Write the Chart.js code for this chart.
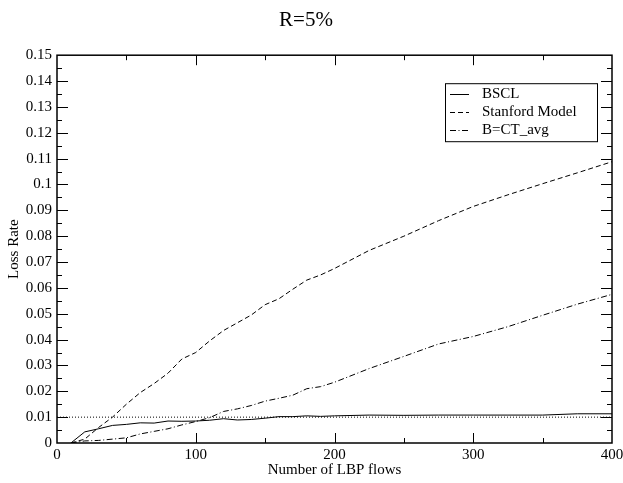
<!DOCTYPE html>
<html>
<head>
<meta charset="utf-8">
<script src="https://cdn.jsdelivr.net/npm/chart.js@4/dist/chart.umd.min.js"></script>
<style>
  html, body { margin: 0; padding: 0; background: #fff; }
  #wrap { width: 623px; height: 483px; }
</style>
</head>
<body>
<div id="wrap"><canvas id="lossChart" width="623" height="483"></canvas></div>
<script>
// values
const flows = [10, 20, 30, 40, 50, 60, 70, 80, 90, 100, 110, 120, 130, 140, 150, 160, 170, 180, 190, 200, 225, 250, 275, 300, 325, 350, 375, 400];
const bscl = [0, 0.0043, 0.0055, 0.0068, 0.0072, 0.0078, 0.0077, 0.0085, 0.0084, 0.0085, 0.0088, 0.0094, 0.0089, 0.0091, 0.0096, 0.0102, 0.0102, 0.0105, 0.0103, 0.0105, 0.0108, 0.0107, 0.0108, 0.0108, 0.0108, 0.0108, 0.0113, 0.0113];
const stanford = [0, 0.0015, 0.006, 0.010, 0.015, 0.0195, 0.023, 0.027, 0.0325, 0.035, 0.0395, 0.0435, 0.0465, 0.0495, 0.0535, 0.0558, 0.0595, 0.063, 0.065, 0.0675, 0.0745, 0.080, 0.086, 0.0915, 0.096, 0.1003, 0.1045, 0.1088];
const ctAvg = [0, 0.0008, 0.001, 0.0015, 0.002, 0.0035, 0.0045, 0.0055, 0.007, 0.0083, 0.0098, 0.0122, 0.0132, 0.0145, 0.0162, 0.0173, 0.0185, 0.021, 0.0218, 0.0235, 0.0288, 0.0335, 0.0383, 0.0412, 0.045, 0.0494, 0.0537, 0.0575];
const refLevel = 0.01;
const xRange = [0, 400];
const yRange = [0, 0.15];

const FONT = 'Liberation Serif, Times New Roman, serif';

const toPoints = ys => flows.map((x, i) => ({ x: x, y: ys[i] }));

// frame, inward ticks and the boxed legend
const framePlugin = {
  id: 'frame',
  afterDatasetsDraw(chart) {
    const { ctx, chartArea: a, scales } = chart;
    const xs = scales.x, ys = scales.y;
    ctx.save();
    ctx.strokeStyle = '#000';
    ctx.lineWidth = 1;
    ctx.beginPath();
    for (let v = xRange[0] + 50; v < xRange[1]; v += 50) {
      const px = Math.round(xs.getPixelForValue(v)) + 0.5;
      const len = v % 100 === 0 ? 10 : 5;
      ctx.moveTo(px, a.bottom); ctx.lineTo(px, a.bottom - len);
      ctx.moveTo(px, a.top); ctx.lineTo(px, a.top + len);
    }
    for (let i = 1; i < 30; i++) {
      const v = i * 0.005;
      const py = Math.round(ys.getPixelForValue(v)) + 0.5;
      const len = i % 2 === 0 ? 11 : 5;
      ctx.moveTo(a.left, py); ctx.lineTo(a.left + len, py);
      ctx.moveTo(a.right, py); ctx.lineTo(a.right - len, py);
    }
    ctx.stroke();
    ctx.lineWidth = 1.5;
    ctx.strokeRect(a.left, a.top, a.right - a.left, a.bottom - a.top);

    // legend
    const items = chart.data.datasets.filter(d => d.label);
    const bx = a.right - 15 - 152, by = a.top + 28, bw = 152, bh = 58;
    ctx.fillStyle = '#fff';
    ctx.fillRect(bx, by, bw, bh);
    ctx.lineWidth = 1;
    ctx.strokeRect(bx + 0.5, by + 0.5, bw, bh);
    ctx.font = '15px ' + FONT;
    ctx.textBaseline = 'middle';
    ctx.fillStyle = '#000';
    items.forEach((d, i) => {
      const y = Math.round(by + 11 + i * 18) + 0.5;
      ctx.setLineDash(d.borderDash || []);
      ctx.beginPath();
      ctx.moveTo(bx + 5, y);
      ctx.lineTo(bx + 24, y);
      ctx.stroke();
      ctx.setLineDash([]);
      ctx.fillText(d.label, bx + 37, y);
    });
    ctx.restore();
  }
};

new Chart(document.getElementById('lossChart'), {
  type: 'line',
  data: {
    datasets: [
      {
        label: 'BSCL',
        data: toPoints(bscl),
        borderColor: '#000',
        borderWidth: 1,
        pointRadius: 0,
        tension: 0,
      },
      {
        label: 'Stanford Model',
        data: toPoints(stanford),
        borderColor: '#000',
        borderWidth: 1,
        borderDash: [5, 3],
        pointRadius: 0,
        tension: 0,
      },
      {
        label: 'B=CT_avg',
        data: toPoints(ctAvg),
        borderColor: '#000',
        borderWidth: 1,
        borderDash: [6, 2.5, 1, 2.5],
        pointRadius: 0,
        tension: 0,
      },
      {
        label: '',
        data: [{ x: xRange[0], y: refLevel }, { x: xRange[1], y: refLevel }],
        borderColor: '#000',
        borderWidth: 1,
        borderDash: [1, 2],
        pointRadius: 0,
      },
    ],
  },
  options: {
    responsive: false,
    animation: false,
    layout: { padding: { left: 0, right: 11, top: 0, bottom: 0 } },
    plugins: {
      legend: { display: false },
      tooltip: { enabled: false },
      title: {
        display: true,
        text: 'R=5%',
        color: '#000',
        font: { family: FONT, size: 21, weight: 'normal' },
        padding: { top: 8, bottom: 22 },
      },
    },
    scales: {
      x: {
        type: 'linear',
        min: xRange[0],
        max: xRange[1],
        grid: { display: false, drawTicks: false },
        border: { display: false },
        ticks: {
          stepSize: 100,
          color: '#000',
          padding: 3,
          font: { family: FONT, size: 15 },
        },
        title: {
          display: true,
          text: 'Number of LBP flows',
          color: '#000',
          font: { family: FONT, size: 15 },
          padding: { top: 4, bottom: 4 },
        },
        afterFit(scale) {
          scale.height = 40;
          scale.paddingLeft = 0;
          scale.paddingRight = 0;
        },
      },
      y: {
        min: yRange[0],
        max: yRange[1],
        grid: { display: false, drawTicks: false },
        border: { display: false },
        ticks: {
          stepSize: 0.01,
          color: '#000',
          padding: 5,
          font: { family: FONT, size: 15 },
          callback: v => String(Number(v.toFixed(2))),
        },
        title: {
          display: true,
          text: 'Loss Rate',
          color: '#000',
          font: { family: FONT, size: 15 },
          padding: { top: 5, bottom: 5 },
        },
        afterFit(scale) { scale.width = 57; },
      },
    },
  },
  plugins: [framePlugin],
});
</script>
</body>
</html>
